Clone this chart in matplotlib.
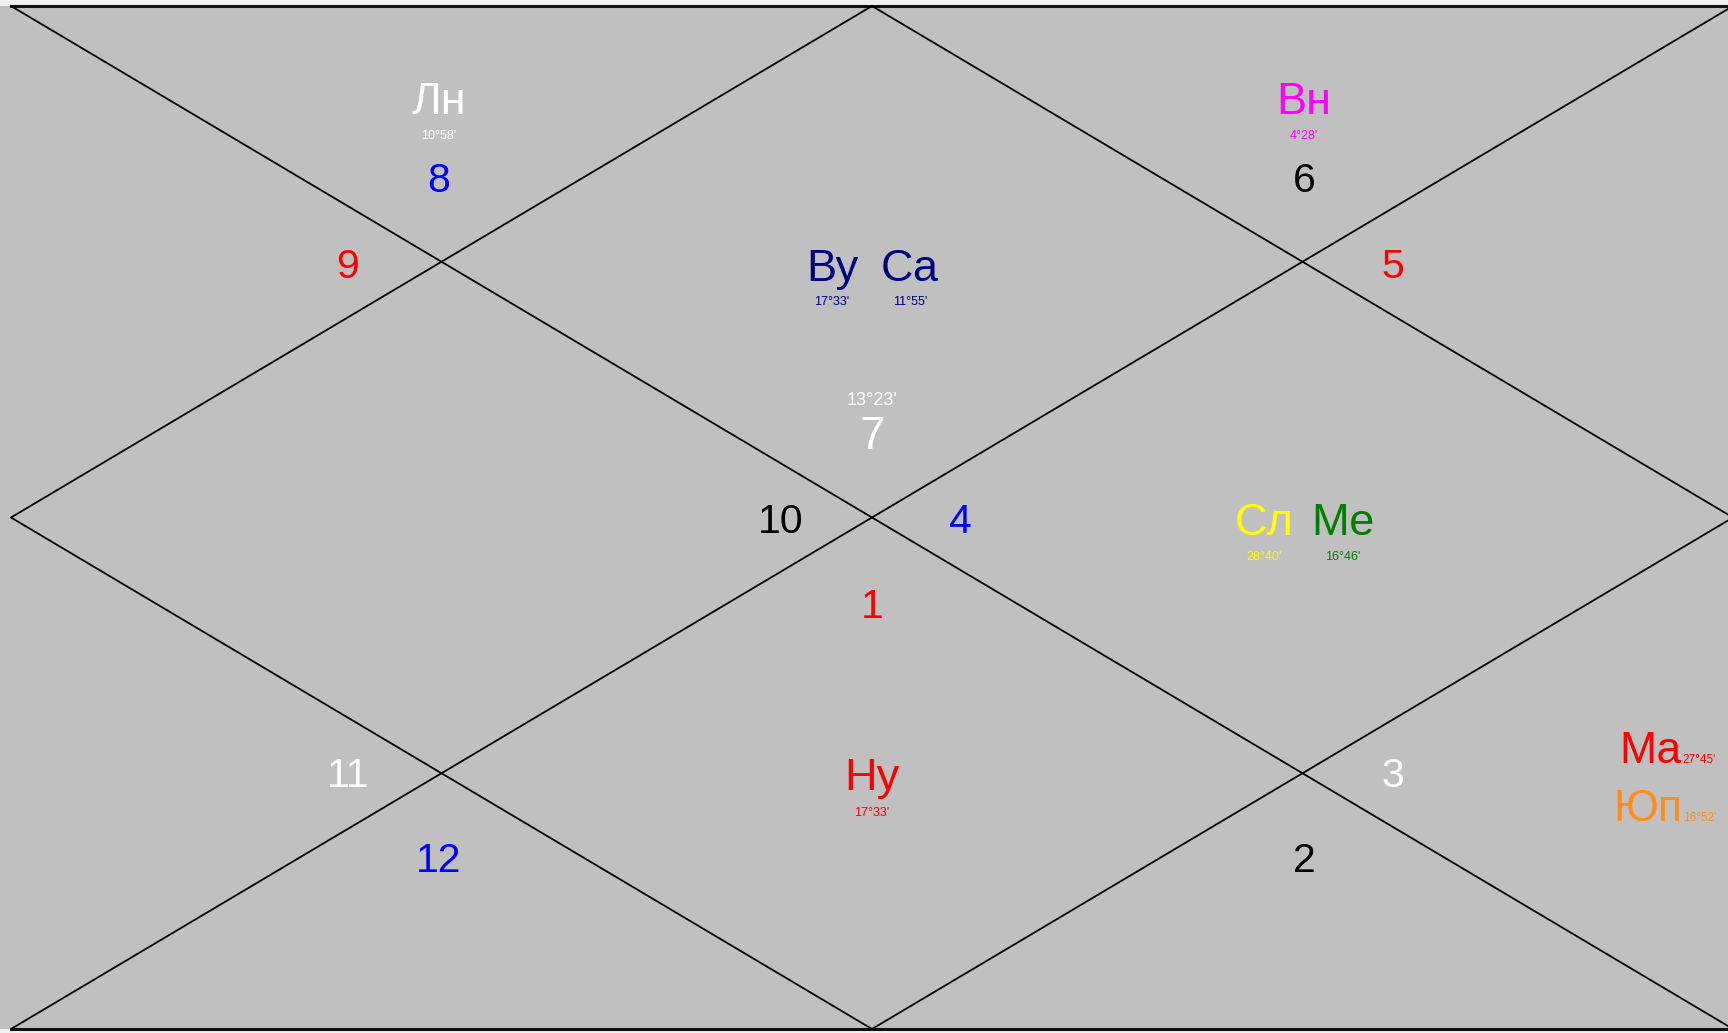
import matplotlib
matplotlib.use("Agg")
import matplotlib.pyplot as plt

plt.rcParams['font.family'] = ['Liberation Sans', 'DejaVu Sans']

# ---- data ----
house_numbers = [7, 8, 9, 10, 11, 12, 1, 2, 3, 4, 5, 6]          # chart slots, counter-clockwise from top
house_colors = ['white', 'blue', 'red', 'black', 'white', 'blue',
                'red', 'black', 'white', 'blue', 'red', 'black']
asc_degree = "13°23'"

planet_names = ['Лн', 'Вн', 'Ву', 'Са', 'Сл', 'Ме', 'Ну', 'Ма', 'Юп']
planet_degrees = ["10°58'", "4°28'", "17°33'", "11°55'", "28°40'", "16°46'",
                  "17°33'", "27°45'", "16°52'"]
planet_colors = ['white', '#ff00ff', '#000080', '#000080', '#ffff00', '#008000',
                 '#ff0000', '#ff0000', '#ff8c1a']

# ---- layout (pixel coordinates) ----
W, H = 1728, 1033
left, top, bottom = 11, 6, 1029
cx, cy = 872, 517.5
right = 2 * cx - left

# baseline positions of house numbers for each slot
num_pos = [(cx, 449), (439, 192), (348, 278), (781, 533), (348, 787), (439, 872),
           (cx, 618), (1304, 872), (1393, 787), (960, 533), (1393, 278), (1304, 192)]
# planet name / degree baselines (stacked style)
planet_pos = [(439, 114, 139), (1304, 114, 139), (832, 281, 305), (910, 281, 305),
              (1264, 535, 560), (1343, 535, 560), (cx, 790, 816)]
# side style (degree to the right of name)
side_pos = [(1619, 763), (1613, 821)]

fig = plt.figure(figsize=(W / 100, H / 100), dpi=100, facecolor='#f0f0f0')
ax = fig.add_axes([0, 0, 1, 1])
ax.set_xlim(0, W)
ax.set_ylim(H, 0)
ax.axis('off')

ax.add_patch(plt.Rectangle((0, top), W, bottom - top, facecolor='#c0c0c0',
                           edgecolor='none', zorder=0))
# borders
ax.plot([left, W], [top, top], color='#101010', lw=2.2, zorder=2)
ax.plot([left, W], [bottom, bottom], color='#101010', lw=2.2, zorder=2)
# diagonals
lk = dict(color='black', lw=1.3, zorder=2)
ax.plot([left, right], [top, bottom], **lk)
ax.plot([left, right], [bottom, top], **lk)
# inner diamond
ax.plot([cx, right, cx, left, cx], [top, cy, bottom, cy, top], **lk)

# house numbers
for i, (n, c) in enumerate(zip(house_numbers, house_colors)):
    x, y = num_pos[i]
    fs = 33 if i == 0 else 29.5
    ax.text(x, y, str(n), color=c, fontsize=fs, ha='center', va='baseline', zorder=3)
ax.text(cx, 405, asc_degree, color='white', fontsize=13, ha='center', va='baseline', zorder=3)

# planets stacked
for k in range(7):
    x, yn, yd = planet_pos[k]
    ax.text(x, yn, planet_names[k], color=planet_colors[k], fontsize=32.5,
            ha='center', va='baseline', zorder=3)
    ax.text(x, yd, planet_degrees[k], color=planet_colors[k], fontsize=9,
            ha='center', va='baseline', zorder=3)

# planets side style
for j, k in enumerate(range(7, 9)):
    x, y = side_pos[j]
    t = ax.text(x, y, planet_names[k], color=planet_colors[k], fontsize=32,
                ha='left', va='baseline', zorder=3)
    fig.canvas.draw()
    bb = t.get_window_extent()
    xr = bb.x1
    ax.annotate(planet_degrees[k], xy=(xr + 1, H - y), xycoords='figure pixels',
                color=planet_colors[k], fontsize=8.5, ha='left', va='baseline', zorder=3)

fig.savefig('out.png', dpi=100, facecolor=fig.get_facecolor())
